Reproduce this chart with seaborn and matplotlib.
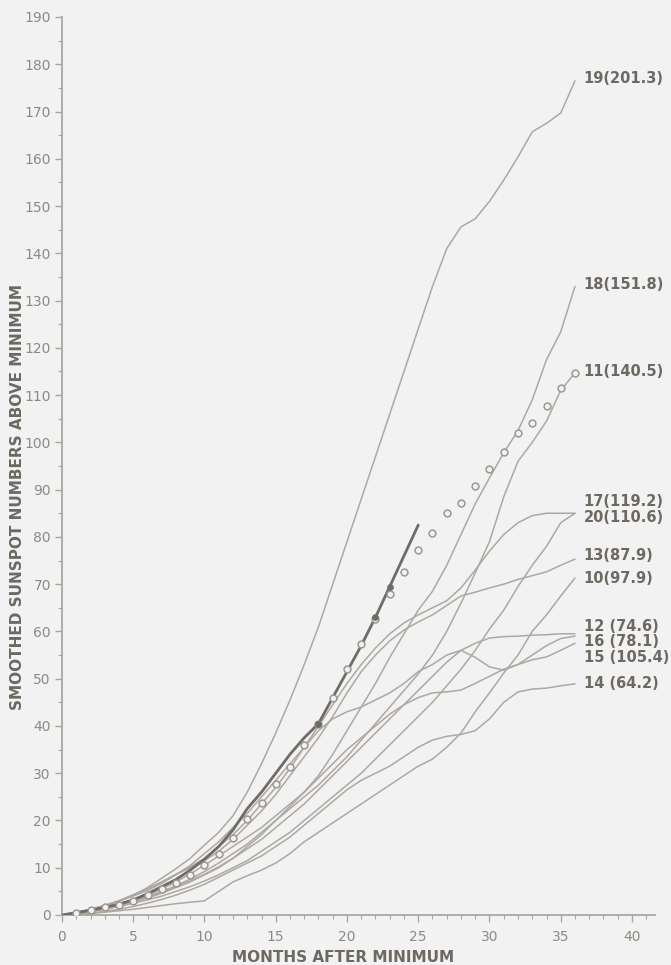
import numpy as np
import pandas as pd
import matplotlib
matplotlib.use("Agg")
import matplotlib.pyplot as plt
from matplotlib.ticker import MultipleLocator
import seaborn as sns

# ---------------- data ----------------
months = list(range(37))

c10 = [0, 0.1, 0.3, 0.6, 0.9, 1.2, 1.6, 2, 2.4, 2.7, 3, 5, 7, 8.3, 9.5, 11, 13, 15.5, 17.5, 19.5,
       21.5, 23.5, 25.5, 27.5, 29.5, 31.5, 33, 35.5, 38.5, 43, 47, 51.2, 55, 60, 63.5, 67.5, 71.3]
c11 = [0, 0.4, 0.9, 1.5, 2.2, 3, 3.9, 5, 6.2, 7.6, 9.2, 11, 13, 15, 17.5, 20, 22.5, 25, 27.5, 30.5,
       33.5, 37, 40.5, 44, 47.5, 51, 55, 60, 66, 72.4, 79, 88.5, 96, 100, 104.5, 111, 114.7]
c12 = [0, 0.3, 0.8, 1.4, 2.1, 2.9, 3.8, 4.8, 6, 7.2, 8.6, 10.2, 12, 14, 16, 18.5, 21, 23.5, 26.5, 29.5,
       32.5, 35.5, 38.5, 41.5, 44.5, 47.5, 50.5, 53.5, 56, 57.5, 58.6, 58.9, 59, 59.2, 59.3, 59.5, 59.5]
c13 = [0, 0.5, 1.2, 2, 3, 4.2, 5.5, 7, 8.6, 10, 11.5, 13.5, 16, 19, 22, 25.5, 29.5, 33.5, 37.5, 42,
       47, 51.5, 55, 58, 60.3, 62, 63.5, 65.5, 67.5, 68.3, 69.2, 70, 71, 71.8, 72.6, 74, 75.3]
c14 = [0, 0.2, 0.4, 0.8, 1.2, 1.8, 2.5, 3.3, 4.2, 5.3, 6.5, 8, 9.5, 11, 12.5, 14.5, 16.5, 19, 21.5, 24,
       26.5, 28.5, 30, 31.5, 33.5, 35.5, 37, 37.8, 38.2, 39, 41.5, 45, 47.2, 47.8, 48, 48.5, 48.9]
c15 = [0, 0.4, 0.9, 1.5, 2.3, 3.2, 4.2, 5.5, 7, 8.7, 10.5, 12.5, 14.5, 16.5, 18.5, 21, 23.5, 26, 29, 32,
       35, 37.5, 40, 42.5, 44.5, 46, 47, 47.2, 47.6, 49, 50.5, 52, 53, 54, 54.6, 56, 57.5]
c16 = [0, 0.5, 1.2, 2, 2.9, 4, 5.2, 6.7, 8.5, 10.5, 13, 15.5, 18.5, 21.5, 25, 28.5, 32, 35.5, 39, 41.5,
       43, 44, 45.5, 47, 49, 51.5, 53, 55, 56, 54.5, 52.5, 51.8, 53, 55, 57, 58.5, 59]
c17 = [0, 0.5, 1.2, 2, 3, 4.3, 5.6, 7, 8.6, 10.2, 12, 14.5, 17, 20, 23.5, 27, 31, 35.5, 40, 44.5,
       49, 53, 56.5, 59.5, 61.8, 63.5, 65, 66.5, 69.2, 73, 77, 80.5, 83, 84.5, 85, 85, 85]
c18 = [0, 0.4, 0.9, 1.4, 2, 2.8, 3.6, 4.6, 5.8, 7, 8.5, 10, 12, 14.5, 17, 20, 23, 26, 29.5, 34,
       39, 44, 49, 54.5, 59.5, 64.5, 68.5, 74, 80.5, 87, 92.5, 97.8, 102.5, 109, 117.5, 123.4, 133]
c19 = [0, 0.5, 1.2, 2, 3, 4.2, 5.8, 7.8, 9.8, 12, 14.8, 17.5, 21, 26, 32, 38.5, 45.5, 53, 61, 70,
       79, 88, 97, 106, 115, 124, 133, 141, 145.6, 147.3, 151, 155.5, 160.4, 165.7, 167.5, 169.7, 176.5]
c20 = [0, 0.3, 0.7, 1.2, 1.8, 2.5, 3.2, 4, 5, 6, 7.2, 8.5, 10, 11.5, 13.5, 15.5, 17.5, 20, 22.5, 25,
       27.5, 30, 33, 36, 39, 42, 45, 48.5, 52, 56, 60.5, 64.5, 69.5, 74, 78, 83, 85]

cycle_names = ["10", "11", "12", "13", "14", "15", "16", "17", "18", "19", "20"]
cycle_values = [c10, c11, c12, c13, c14, c15, c16, c17, c18, c19, c20]

# current cycle (heavy line) and projected points (open circles)
current_months = list(range(26))
current_values = [0, 0.5, 1, 1.6, 2.3, 3.2, 4.5, 6, 7.5, 9.5, 11.8, 14.5, 18, 22.5, 26, 30, 34, 37.5,
                  40.5, 46, 51.5, 57, 63, 69.5, 76, 82.5]
dot_months = [18, 22, 23]
dot_values = [40.5, 63, 69.5]
circle_months = list(range(1, 37))
circle_values = [0.5, 1, 1.6, 2.2, 3, 4.2, 5.4, 6.8, 8.5, 10.5, 12.9, 16.3, 20.3, 23.7, 27.7, 31.3,
                 36, 40.5, 46, 52, 57.3, 62.6, 68, 72.6, 77.2, 80.8, 85, 87.2, 90.8, 94.4, 98, 102,
                 104, 107.7, 111.5, 114.7]

label_texts = ["19(201.3)", "18(151.8)", "11(140.5)", "17(119.2)", "20(110.6)", "13(87.9)",
               "10(97.9)", "12 (74.6)", "16 (78.1)", "15 (105.4)", "14 (64.2)"]
label_y = [177, 133.5, 115, 87.5, 84, 76, 71.3, 61, 57.8, 54.4, 49]

y_ticks = list(range(0, 191, 10))
x_ticks = list(range(0, 41, 5))

# ---------------- style ----------------
BG = "#f2f2f2"
GRAY = "#ada8a1"
DARK = "#6f6b66"
TXT = "#6d6862"
TICKTXT = "#8e8982"
AXC = "#aba69f"

sns.set_style("ticks")
plt.rcParams["font.family"] = ["DejaVu Sans"]

fig = plt.figure(figsize=(6.71, 9.65), dpi=100, facecolor=BG)
ax = fig.add_axes([62 / 671, 50 / 965, 593 / 671, 898 / 965])
ax.set_facecolor(BG)

rows = []
for name, vals in zip(cycle_names, cycle_values):
    for m, v in zip(months, vals):
        rows.append({"cycle": name, "month": m, "value": v})
df = pd.DataFrame(rows)

sns.lineplot(data=df, x="month", y="value", units="cycle", estimator=None,
             color=GRAY, linewidth=1.1, ax=ax, zorder=2)

sns.lineplot(x=current_months, y=current_values, color=DARK, linewidth=2.0, ax=ax, zorder=3)

sns.scatterplot(x=circle_months, y=circle_values, marker="o", s=24, color=BG,
                edgecolor="#9c978f", linewidth=1.1, ax=ax, zorder=4)
sns.scatterplot(x=dot_months, y=dot_values, marker="o", s=16, color=DARK,
                edgecolor=DARK, linewidth=0.8, ax=ax, zorder=5)

for t, yv in zip(label_texts, label_y):
    ax.text(36.6, yv, t, ha="left", va="center", fontsize=10.5, fontweight="bold",
            color=TXT, clip_on=False)

ax.set_xlim(0, 593 / 14.25)
ax.set_ylim(0, 190)
ax.set_yticks(y_ticks)
ax.set_xticks(x_ticks)
ax.yaxis.set_minor_locator(MultipleLocator(5))
ax.xaxis.set_minor_locator(MultipleLocator(1))
ax.set_xlabel("")
ax.set_ylabel("")

for s in ["top", "right"]:
    ax.spines[s].set_visible(False)
for s in ["left", "bottom"]:
    ax.spines[s].set_color(AXC)
    ax.spines[s].set_linewidth(1.3)

ax.tick_params(axis="both", which="major", direction="out", length=5, width=1.0,
               color=AXC, labelcolor=TICKTXT, labelsize=10, pad=3)
ax.tick_params(axis="both", which="minor", direction="out", length=3, width=0.8, color=AXC)
ax.tick_params(axis="x", which="major", pad=6)

fig.text(343 / 671, 1 - 957 / 965, "MONTHS AFTER MINIMUM", ha="center", va="center",
         fontsize=11, fontweight="bold", color=TXT)
fig.text(18 / 671, 1 - 497 / 965, "SMOOTHED SUNSPOT NUMBERS ABOVE MINIMUM", ha="center",
         va="center", rotation=90, fontsize=11, fontweight="bold", color=TXT)

fig.savefig("out.png", dpi=100, facecolor=BG)
